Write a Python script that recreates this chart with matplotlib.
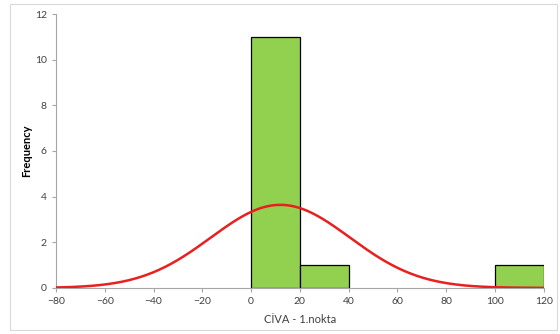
import numpy as np
import matplotlib
matplotlib.use("Agg")
import matplotlib.pyplot as plt
from matplotlib.patches import Rectangle

# histogram data
bin_edges = [0, 20, 40, 60, 80, 100, 120]
counts = [11, 1, 0, 0, 0, 1]
n_total = 13
bin_width = 20

# fitted normal curve
curve_mean = 12.0
curve_sd = 28.5

x_ticks = [-80, -60, -40, -20, 0, 20, 40, 60, 80, 100, 120]
y_ticks = [0, 2, 4, 6, 8, 10, 12]

plt.rcParams['font.family'] = ['Lato', 'DejaVu Sans']

fig = plt.figure(figsize=(5.6, 3.34), dpi=100)
fig.patches.append(Rectangle((0.018, 0.012), 0.976, 0.976, transform=fig.transFigure,
                             fill=False, edgecolor="#d9d9d9", lw=0.8))
ax = fig.add_axes([0.1, 0.138, 0.871, 0.82])

lefts = bin_edges[:-1]
for left, c in zip(lefts, counts):
    if c > 0:
        ax.bar(left, c, width=bin_width, align="edge", color="#92D050",
               edgecolor="black", linewidth=0.9, zorder=2)

xs = np.linspace(-80, 120, 400)
pdf = np.exp(-0.5 * ((xs - curve_mean) / curve_sd) ** 2) / (curve_sd * np.sqrt(2 * np.pi))
ax.plot(xs, pdf * n_total * bin_width, color="#E8201F", lw=1.8, zorder=3)

ax.set_xlim(-80, 120)
ax.set_ylim(0, 12)
ax.set_xticks(x_ticks)
ax.set_yticks(y_ticks)
for s in ["top", "right"]:
    ax.spines[s].set_visible(False)
for s in ["left", "bottom"]:
    ax.spines[s].set_color("#a6a6a6")
ax.tick_params(colors="#a6a6a6", labelcolor="#404040", labelsize=7.5, length=3)

ax.set_xlabel("CİVA - 1.nokta", fontsize=8, color="#404040", labelpad=6)
ax.set_ylabel("Frequency", fontsize=8, fontweight="bold", color="black", labelpad=2)

fig.savefig("out.png", dpi=100)
